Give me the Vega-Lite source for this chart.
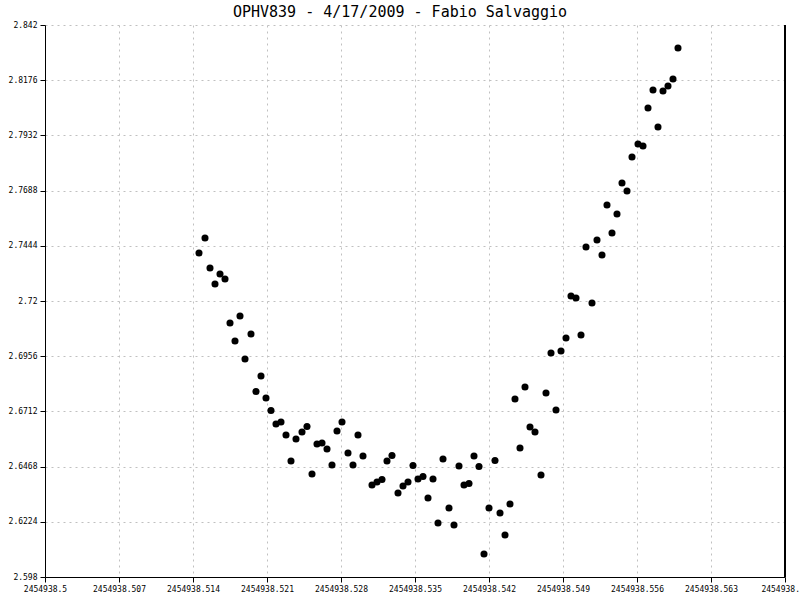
{
  "$schema": "https://vega.github.io/schema/vega-lite/v6.json",
  "autosize": "none",
  "width": 740,
  "height": 552,
  "padding": {"left": 45, "top": 25, "right": 15, "bottom": 23},
  "background": "white",
  "title": {
    "text": "OPHV839 - 4/17/2009 - Fabio Salvaggio",
    "font": "DejaVu Sans Mono",
    "fontSize": 15,
    "fontWeight": "normal",
    "color": "black",
    "anchor": "middle",
    "dx": -15,
    "offset": 7,
    "dy": 6
  },
  "config": {
    "view": {"stroke": null},
    "axis": {
      "labelFont": "DejaVu Sans Mono",
      "labelFontSize": 8,
      "labelColor": "black",
      "domainColor": "black",
      "tickColor": "black",
      "tickSize": 5,
      "gridColor": "#c0c0c0",
      "gridDash": [2, 4],
      "gridWidth": 1,
      "title": null
    }
  },
  "data": {
    "values": [
      {"jd": 2454938.514568, "mag": 2.74122},
      {"jd": 2454938.515135, "mag": 2.74785},
      {"jd": 2454938.515608, "mag": 2.73459},
      {"jd": 2454938.516081, "mag": 2.72751},
      {"jd": 2454938.516554, "mag": 2.73193},
      {"jd": 2454938.517027, "mag": 2.72972},
      {"jd": 2454938.5175, "mag": 2.71028},
      {"jd": 2454938.517973, "mag": 2.70232},
      {"jd": 2454938.518446, "mag": 2.71337},
      {"jd": 2454938.518919, "mag": 2.69436},
      {"jd": 2454938.519486, "mag": 2.70541},
      {"jd": 2454938.519959, "mag": 2.68},
      {"jd": 2454938.520432, "mag": 2.68685},
      {"jd": 2454938.520905, "mag": 2.67712},
      {"jd": 2454938.521378, "mag": 2.6716},
      {"jd": 2454938.521851, "mag": 2.66563},
      {"jd": 2454938.522324, "mag": 2.66651},
      {"jd": 2454938.522797, "mag": 2.66077},
      {"jd": 2454938.52327, "mag": 2.64928},
      {"jd": 2454938.523743, "mag": 2.659},
      {"jd": 2454938.524311, "mag": 2.66209},
      {"jd": 2454938.524784, "mag": 2.66453},
      {"jd": 2454938.525257, "mag": 2.64353},
      {"jd": 2454938.52573, "mag": 2.65679},
      {"jd": 2454938.526203, "mag": 2.65723},
      {"jd": 2454938.526676, "mag": 2.65458},
      {"jd": 2454938.527149, "mag": 2.64751},
      {"jd": 2454938.527622, "mag": 2.66254},
      {"jd": 2454938.528095, "mag": 2.66651},
      {"jd": 2454938.528662, "mag": 2.65281},
      {"jd": 2454938.529135, "mag": 2.64751},
      {"jd": 2454938.529608, "mag": 2.66077},
      {"jd": 2454938.530081, "mag": 2.65149},
      {"jd": 2454938.530932, "mag": 2.63867},
      {"jd": 2454938.531405, "mag": 2.63999},
      {"jd": 2454938.531878, "mag": 2.6411},
      {"jd": 2454938.532351, "mag": 2.64928},
      {"jd": 2454938.532824, "mag": 2.65171},
      {"jd": 2454938.533392, "mag": 2.63513},
      {"jd": 2454938.533865, "mag": 2.63823},
      {"jd": 2454938.534338, "mag": 2.63999},
      {"jd": 2454938.534811, "mag": 2.64729},
      {"jd": 2454938.535284, "mag": 2.64132},
      {"jd": 2454938.535757, "mag": 2.64242},
      {"jd": 2454938.53623, "mag": 2.63292},
      {"jd": 2454938.536703, "mag": 2.64132},
      {"jd": 2454938.537176, "mag": 2.62187},
      {"jd": 2454938.537649, "mag": 2.65016},
      {"jd": 2454938.538216, "mag": 2.6285},
      {"jd": 2454938.538689, "mag": 2.62099},
      {"jd": 2454938.539162, "mag": 2.64707},
      {"jd": 2454938.539635, "mag": 2.63867},
      {"jd": 2454938.540108, "mag": 2.63933},
      {"jd": 2454938.540581, "mag": 2.65149},
      {"jd": 2454938.541054, "mag": 2.64684},
      {"jd": 2454938.541527, "mag": 2.60817},
      {"jd": 2454938.542, "mag": 2.6285},
      {"jd": 2454938.542568, "mag": 2.6495},
      {"jd": 2454938.543041, "mag": 2.62629},
      {"jd": 2454938.543514, "mag": 2.61657},
      {"jd": 2454938.543986, "mag": 2.63027},
      {"jd": 2454938.544459, "mag": 2.67668},
      {"jd": 2454938.544932, "mag": 2.65502},
      {"jd": 2454938.545405, "mag": 2.68199},
      {"jd": 2454938.545878, "mag": 2.6643},
      {"jd": 2454938.546351, "mag": 2.66209},
      {"jd": 2454938.546919, "mag": 2.64309},
      {"jd": 2454938.547392, "mag": 2.67933},
      {"jd": 2454938.547865, "mag": 2.69701},
      {"jd": 2454938.548338, "mag": 2.67182},
      {"jd": 2454938.548811, "mag": 2.6979},
      {"jd": 2454938.549284, "mag": 2.70365},
      {"jd": 2454938.549757, "mag": 2.72221},
      {"jd": 2454938.55023, "mag": 2.72133},
      {"jd": 2454938.550703, "mag": 2.70497},
      {"jd": 2454938.551176, "mag": 2.74387},
      {"jd": 2454938.551743, "mag": 2.71912},
      {"jd": 2454938.552216, "mag": 2.74696},
      {"jd": 2454938.552689, "mag": 2.74033},
      {"jd": 2454938.553162, "mag": 2.76244},
      {"jd": 2454938.553635, "mag": 2.75006},
      {"jd": 2454938.554108, "mag": 2.75846},
      {"jd": 2454938.554581, "mag": 2.77216},
      {"jd": 2454938.555054, "mag": 2.76862},
      {"jd": 2454938.555527, "mag": 2.78365},
      {"jd": 2454938.556095, "mag": 2.7894},
      {"jd": 2454938.556568, "mag": 2.78851},
      {"jd": 2454938.557041, "mag": 2.80531},
      {"jd": 2454938.557514, "mag": 2.81327},
      {"jd": 2454938.557986, "mag": 2.79691},
      {"jd": 2454938.558459, "mag": 2.81283},
      {"jd": 2454938.558932, "mag": 2.81504},
      {"jd": 2454938.559405, "mag": 2.81813},
      {"jd": 2454938.559878, "mag": 2.83183}
    ]
  },
  "layer": [
    {
      "mark": {"type": "circle", "size": 50, "color": "black", "opacity": 1},
      "encoding": {
        "x": {
          "field": "jd",
          "type": "quantitative",
          "scale": {"domain": [2454938.5, 2454938.57], "zero": false, "nice": false},
          "axis": {
            "values": [2454938.5, 2454938.507, 2454938.514, 2454938.521, 2454938.528, 2454938.535, 2454938.542, 2454938.549, 2454938.556, 2454938.563, 2454938.57],
            "format": ".3~f",
            "labelPadding": 3,
            "labelFlush": false,
            "labelOverlap": false
          }
        },
        "y": {
          "field": "mag",
          "type": "quantitative",
          "scale": {"domain": [2.598, 2.842], "zero": false, "nice": false},
          "axis": {
            "values": [2.598, 2.6224, 2.6468, 2.6712, 2.6956, 2.72, 2.7444, 2.7688, 2.7932, 2.8176, 2.842],
            "format": ".4~f",
            "labelPadding": 3,
            "labelFlush": false,
            "labelOverlap": false
          }
        }
      }
    },
    {
      "mark": {"type": "rule", "color": "black", "strokeWidth": 1},
      "encoding": {"x": {"datum": 2454938.57, "type": "quantitative"}}
    }
  ]
}
